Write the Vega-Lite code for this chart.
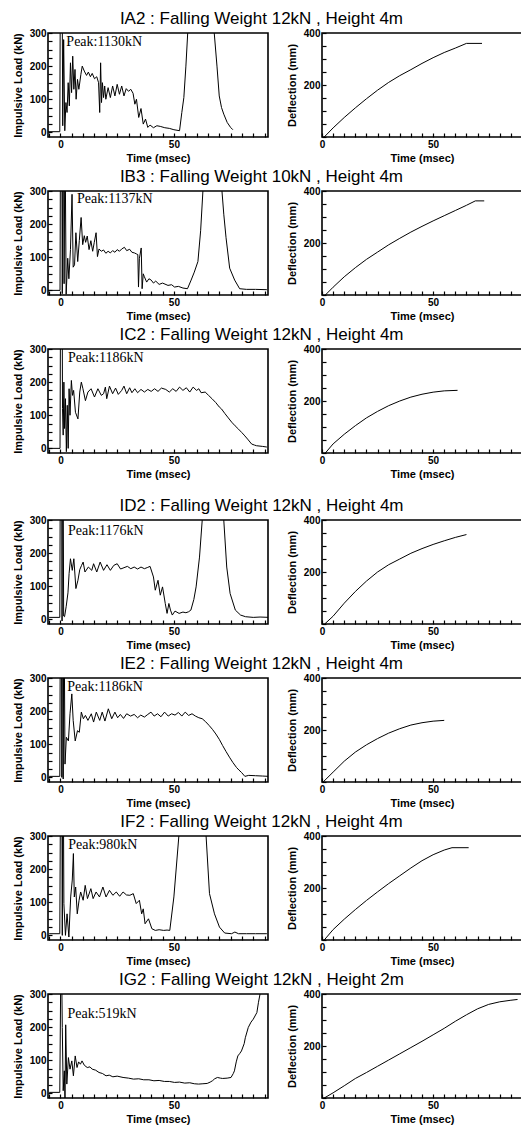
{
  "$schema": "https://vega.github.io/schema/vega-lite/v6.json",
  "background": "white",
  "padding": {"left": 11, "top": 10, "right": 0, "bottom": 0},
  "datasets": {
    "IA2_load": [{"t":-5.5,"v":2},{"t":-0.3,"v":2},{"t":0.3,"v":1130},{"t":1.0,"v":20},{"t":1.4,"v":280},{"t":1.9,"v":5},{"t":2.4,"v":90},{"t":2.9,"v":60},{"t":3.4,"v":150},{"t":3.9,"v":80},{"t":4.4,"v":210},{"t":4.9,"v":120},{"t":5.4,"v":230},{"t":5.9,"v":130},{"t":6.4,"v":190},{"t":6.9,"v":100},{"t":7.5,"v":160},{"t":8.1,"v":130},{"t":9,"v":175},{"t":9.6,"v":200},{"t":10.5,"v":185},{"t":11.5,"v":172},{"t":12.3,"v":182},{"t":13.2,"v":168},{"t":14,"v":178},{"t":15,"v":162},{"t":16,"v":168},{"t":16.8,"v":150},{"t":17.3,"v":60},{"t":17.7,"v":210},{"t":18.1,"v":90},{"t":18.5,"v":150},{"t":19,"v":105},{"t":19.5,"v":140},{"t":20,"v":100},{"t":21,"v":135},{"t":22,"v":105},{"t":23,"v":140},{"t":24,"v":110},{"t":25,"v":145},{"t":26,"v":115},{"t":27,"v":140},{"t":28,"v":110},{"t":29,"v":132},{"t":30,"v":124},{"t":31,"v":130},{"t":32,"v":118},{"t":32.8,"v":85},{"t":33.5,"v":100},{"t":34.5,"v":45},{"t":35.5,"v":72},{"t":36.5,"v":25},{"t":37.5,"v":40},{"t":38.5,"v":15},{"t":39.5,"v":22},{"t":41,"v":14},{"t":42.5,"v":20},{"t":44,"v":18},{"t":46,"v":14},{"t":48,"v":12},{"t":50,"v":8},{"t":52.5,"v":5},{"t":53.5,"v":60},{"t":54.4,"v":105},{"t":55.3,"v":200},{"t":56.1,"v":300},{"t":58,"v":550},{"t":62,"v":700},{"t":66,"v":550},{"t":67.8,"v":300},{"t":69,"v":200},{"t":70,"v":110},{"t":71,"v":75},{"t":72,"v":55},{"t":73.5,"v":30},{"t":75,"v":15},{"t":76,"v":8}],
    "IB3_load": [{"t":-5.5,"v":0},{"t":-0.2,"v":0},{"t":0.3,"v":1137},{"t":0.8,"v":-10},{"t":1.2,"v":700},{"t":1.6,"v":20},{"t":2.0,"v":500},{"t":2.5,"v":-12},{"t":3.2,"v":97},{"t":3.7,"v":35},{"t":4.4,"v":123},{"t":5.1,"v":290},{"t":5.6,"v":70},{"t":6.2,"v":77},{"t":6.8,"v":174},{"t":7.6,"v":87},{"t":8.3,"v":150},{"t":9.1,"v":220},{"t":9.8,"v":138},{"t":10.5,"v":165},{"t":11.1,"v":145},{"t":11.8,"v":164},{"t":12.6,"v":123},{"t":13.4,"v":150},{"t":14.2,"v":118},{"t":14.9,"v":145},{"t":15.7,"v":174},{"t":16.3,"v":102},{"t":17,"v":125},{"t":18,"v":118},{"t":19,"v":122},{"t":20,"v":112},{"t":21,"v":118},{"t":22,"v":113},{"t":23,"v":120},{"t":24,"v":115},{"t":25,"v":123},{"t":26,"v":118},{"t":27,"v":125},{"t":28.2,"v":130},{"t":29.2,"v":120},{"t":30.5,"v":124},{"t":31.5,"v":115},{"t":32.6,"v":113},{"t":33.5,"v":110},{"t":34.1,"v":108},{"t":34.4,"v":10},{"t":34.8,"v":97},{"t":35.6,"v":128},{"t":36,"v":5},{"t":36.5,"v":50},{"t":37,"v":41},{"t":38,"v":25},{"t":39,"v":35},{"t":40,"v":31},{"t":41,"v":22},{"t":42,"v":28},{"t":43.5,"v":18},{"t":45,"v":22},{"t":47.4,"v":15},{"t":49,"v":17},{"t":50.3,"v":10},{"t":52,"v":12},{"t":54,"v":7},{"t":56,"v":5},{"t":57.6,"v":31},{"t":59,"v":55},{"t":60.6,"v":87},{"t":61.8,"v":180},{"t":62.8,"v":300},{"t":65,"v":600},{"t":67,"v":700},{"t":69,"v":600},{"t":71.2,"v":300},{"t":72,"v":230},{"t":73,"v":159},{"t":74.6,"v":67},{"t":76.8,"v":31},{"t":79,"v":5},{"t":82,"v":3},{"t":86,"v":3},{"t":91,"v":2}],
    "IC2_load": [{"t":-5.5,"v":0},{"t":-0.2,"v":0},{"t":0.4,"v":1186},{"t":0.9,"v":120},{"t":1.2,"v":40},{"t":1.5,"v":200},{"t":1.8,"v":60},{"t":2.2,"v":150},{"t":2.6,"v":-10},{"t":3.0,"v":130},{"t":3.4,"v":0},{"t":3.8,"v":180},{"t":4.2,"v":100},{"t":4.8,"v":205},{"t":5.3,"v":160},{"t":5.8,"v":175},{"t":6.6,"v":109},{"t":7.7,"v":89},{"t":8.5,"v":170},{"t":9.2,"v":200},{"t":9.9,"v":180},{"t":11,"v":144},{"t":12.1,"v":170},{"t":13.5,"v":180},{"t":15,"v":155},{"t":16.5,"v":180},{"t":18,"v":160},{"t":19,"v":165},{"t":19.8,"v":185},{"t":20.4,"v":150},{"t":21.6,"v":188},{"t":23,"v":165},{"t":24.3,"v":182},{"t":25.5,"v":163},{"t":27,"v":175},{"t":28,"v":188},{"t":29.2,"v":165},{"t":30.5,"v":183},{"t":31.5,"v":168},{"t":32.8,"v":180},{"t":34,"v":168},{"t":35.5,"v":178},{"t":37,"v":170},{"t":38.5,"v":178},{"t":40,"v":172},{"t":41.5,"v":180},{"t":43,"v":172},{"t":44.5,"v":182},{"t":46.4,"v":178},{"t":48,"v":170},{"t":49.5,"v":180},{"t":51,"v":172},{"t":52.5,"v":185},{"t":54,"v":175},{"t":55.5,"v":183},{"t":57,"v":170},{"t":58.5,"v":185},{"t":60,"v":175},{"t":61,"v":180},{"t":62,"v":168},{"t":63.8,"v":170},{"t":65.3,"v":160},{"t":66.8,"v":150},{"t":68.5,"v":138},{"t":70,"v":125},{"t":71,"v":119},{"t":72.5,"v":105},{"t":74,"v":92},{"t":75.5,"v":79},{"t":77,"v":68},{"t":78.5,"v":58},{"t":79.9,"v":48},{"t":81,"v":40},{"t":82.5,"v":28},{"t":84.3,"v":13},{"t":85.5,"v":10},{"t":86.4,"v":8},{"t":89,"v":6},{"t":91,"v":4}],
    "ID2_load": [{"t":-5,"v":6},{"t":-0.3,"v":6},{"t":0.3,"v":1176},{"t":0.7,"v":-5},{"t":1.0,"v":800},{"t":1.4,"v":10},{"t":1.8,"v":8},{"t":2.5,"v":38},{"t":3.3,"v":80},{"t":3.8,"v":138},{"t":4.4,"v":183},{"t":5.2,"v":148},{"t":5.9,"v":183},{"t":6.8,"v":93},{"t":7.7,"v":118},{"t":8.5,"v":150},{"t":9.3,"v":163},{"t":10,"v":173},{"t":10.8,"v":143},{"t":12.3,"v":158},{"t":13.8,"v":148},{"t":14.6,"v":168},{"t":16,"v":143},{"t":17.5,"v":173},{"t":19,"v":148},{"t":20.5,"v":165},{"t":22,"v":148},{"t":23.5,"v":163},{"t":25,"v":168},{"t":26.5,"v":152},{"t":28,"v":156},{"t":29.5,"v":160},{"t":31,"v":153},{"t":32.5,"v":158},{"t":34,"v":152},{"t":35.5,"v":158},{"t":37,"v":153},{"t":38.5,"v":157},{"t":39.5,"v":160},{"t":41,"v":128},{"t":41.8,"v":88},{"t":43,"v":118},{"t":44,"v":73},{"t":45,"v":98},{"t":46.2,"v":48},{"t":47,"v":18},{"t":47.8,"v":48},{"t":48.5,"v":28},{"t":49.3,"v":13},{"t":50.5,"v":25},{"t":52.3,"v":18},{"t":54,"v":22},{"t":55.3,"v":20},{"t":56.5,"v":23},{"t":57.5,"v":28},{"t":58.8,"v":60},{"t":59.8,"v":98},{"t":61.3,"v":188},{"t":62.5,"v":300},{"t":65,"v":600},{"t":67.5,"v":700},{"t":70,"v":600},{"t":72,"v":300},{"t":73.3,"v":158},{"t":74.8,"v":78},{"t":77.1,"v":28},{"t":79.4,"v":13},{"t":81.6,"v":8},{"t":85,"v":6},{"t":88,"v":7},{"t":92,"v":6}],
    "IE2_load": [{"t":-5,"v":3},{"t":-0.3,"v":3},{"t":0.3,"v":1186},{"t":0.6,"v":0},{"t":0.9,"v":900},{"t":1.2,"v":-5},{"t":1.5,"v":600},{"t":2,"v":40},{"t":2.6,"v":121},{"t":3.5,"v":110},{"t":4.2,"v":192},{"t":5,"v":252},{"t":5.6,"v":172},{"t":6.5,"v":110},{"t":7.5,"v":141},{"t":8.3,"v":136},{"t":9.2,"v":197},{"t":10.1,"v":177},{"t":11,"v":187},{"t":12.1,"v":172},{"t":13.6,"v":192},{"t":14.6,"v":167},{"t":15.8,"v":197},{"t":17.3,"v":172},{"t":18.4,"v":197},{"t":19.6,"v":170},{"t":21.1,"v":207},{"t":22.6,"v":177},{"t":24,"v":197},{"t":25.2,"v":180},{"t":26.4,"v":190},{"t":27.8,"v":178},{"t":29.2,"v":192},{"t":30.9,"v":185},{"t":32.5,"v":190},{"t":34,"v":180},{"t":35.4,"v":188},{"t":37,"v":182},{"t":38.5,"v":190},{"t":39.9,"v":197},{"t":41.3,"v":185},{"t":42.8,"v":192},{"t":44.3,"v":183},{"t":45.9,"v":197},{"t":47.5,"v":185},{"t":49,"v":192},{"t":50.5,"v":188},{"t":52,"v":196},{"t":53.5,"v":185},{"t":55,"v":197},{"t":56.5,"v":187},{"t":58,"v":192},{"t":59.5,"v":185},{"t":61,"v":180},{"t":62.5,"v":177},{"t":64,"v":168},{"t":65.5,"v":157},{"t":67,"v":145},{"t":68.5,"v":131},{"t":70,"v":115},{"t":71.5,"v":96},{"t":73,"v":78},{"t":74.5,"v":61},{"t":76,"v":45},{"t":77.6,"v":30},{"t":78.7,"v":22},{"t":79.8,"v":15},{"t":81.3,"v":3},{"t":83,"v":6},{"t":86,"v":5},{"t":89,"v":4},{"t":92,"v":3}],
    "IF2_load": [{"t":-5,"v":5},{"t":-0.3,"v":5},{"t":0.4,"v":980},{"t":0.8,"v":0},{"t":1.1,"v":700},{"t":1.5,"v":96},{"t":2.2,"v":0},{"t":2.9,"v":65},{"t":3.7,"v":-5},{"t":4.5,"v":116},{"t":5.2,"v":167},{"t":5.7,"v":247},{"t":6.1,"v":116},{"t":6.7,"v":146},{"t":7.4,"v":65},{"t":8.2,"v":106},{"t":8.9,"v":131},{"t":10,"v":106},{"t":10.9,"v":151},{"t":11.9,"v":111},{"t":13.4,"v":141},{"t":14.4,"v":111},{"t":15.7,"v":131},{"t":17.2,"v":116},{"t":18.7,"v":146},{"t":20.1,"v":116},{"t":21.6,"v":136},{"t":23.1,"v":121},{"t":24.6,"v":131},{"t":26.1,"v":118},{"t":27.6,"v":131},{"t":29.1,"v":122},{"t":30.6,"v":121},{"t":32.1,"v":126},{"t":33.4,"v":96},{"t":34.8,"v":106},{"t":35.8,"v":65},{"t":36.5,"v":80},{"t":37.3,"v":35},{"t":38.8,"v":50},{"t":40.3,"v":20},{"t":41.8,"v":15},{"t":43.5,"v":17},{"t":45.5,"v":15},{"t":47,"v":16},{"t":48.2,"v":15},{"t":50,"v":116},{"t":52.2,"v":300},{"t":55,"v":600},{"t":58,"v":700},{"t":61,"v":600},{"t":64.2,"v":300},{"t":65.7,"v":126},{"t":67.9,"v":65},{"t":70.1,"v":25},{"t":72.4,"v":7},{"t":75.4,"v":5},{"t":76.9,"v":10},{"t":78.5,"v":5},{"t":82,"v":5},{"t":86,"v":5},{"t":91,"v":5}],
    "IG2_load": [{"t":-5,"v":3},{"t":-0.3,"v":3},{"t":0.3,"v":519},{"t":0.8,"v":199},{"t":1.2,"v":8},{"t":1.7,"v":68},{"t":2,"v":-25},{"t":2.3,"v":207},{"t":2.8,"v":28},{"t":3.5,"v":108},{"t":4.2,"v":73},{"t":5,"v":98},{"t":5.7,"v":53},{"t":6.5,"v":113},{"t":7.3,"v":78},{"t":8,"v":95},{"t":8.8,"v":88},{"t":9.5,"v":98},{"t":10.5,"v":85},{"t":11.8,"v":78},{"t":13,"v":80},{"t":14,"v":73},{"t":15.5,"v":70},{"t":17,"v":63},{"t":18.5,"v":60},{"t":20.1,"v":53},{"t":21.5,"v":55},{"t":23.1,"v":50},{"t":25,"v":52},{"t":27.6,"v":48},{"t":30,"v":46},{"t":32.2,"v":43},{"t":34.5,"v":44},{"t":36.7,"v":41},{"t":39,"v":41},{"t":41.2,"v":38},{"t":43.5,"v":39},{"t":45.8,"v":36},{"t":48,"v":36},{"t":50.3,"v":33},{"t":52.5,"v":34},{"t":54.8,"v":31},{"t":57,"v":32},{"t":59,"v":29},{"t":60.9,"v":28},{"t":62.8,"v":29},{"t":64.7,"v":30},{"t":66,"v":34},{"t":67,"v":38},{"t":68,"v":44},{"t":69.2,"v":48},{"t":70.5,"v":46},{"t":71.5,"v":45},{"t":73.5,"v":46},{"t":75.2,"v":48},{"t":76.2,"v":60},{"t":76.7,"v":68},{"t":77.5,"v":95},{"t":78.2,"v":113},{"t":79,"v":120},{"t":79.8,"v":128},{"t":81,"v":150},{"t":81.5,"v":168},{"t":82.8,"v":199},{"t":84,"v":215},{"t":85,"v":224},{"t":86.6,"v":244},{"t":87.3,"v":275},{"t":88,"v":300},{"t":89.6,"v":330},{"t":91,"v":360}],
    "IA2_defl": [{"t":1,"v":0},{"t":5,"v":35},{"t":10,"v":75},{"t":15,"v":112},{"t":20,"v":147},{"t":25,"v":180},{"t":30,"v":210},{"t":35,"v":236},{"t":40,"v":259},{"t":45,"v":283},{"t":50,"v":305},{"t":55,"v":325},{"t":60,"v":342},{"t":65,"v":360},{"t":72,"v":360}],
    "IB3_defl": [{"t":1.5,"v":0},{"t":5,"v":30},{"t":10,"v":70},{"t":15,"v":105},{"t":20,"v":137},{"t":25,"v":165},{"t":30,"v":193},{"t":35,"v":218},{"t":40,"v":242},{"t":45,"v":264},{"t":50,"v":285},{"t":55,"v":305},{"t":60,"v":325},{"t":65,"v":345},{"t":69,"v":362},{"t":73,"v":362}],
    "IC2_defl": [{"t":1.5,"v":0},{"t":5,"v":35},{"t":10,"v":72},{"t":15,"v":105},{"t":20,"v":135},{"t":25,"v":160},{"t":30,"v":182},{"t":35,"v":200},{"t":40,"v":215},{"t":45,"v":226},{"t":50,"v":234},{"t":55,"v":239},{"t":61,"v":241}],
    "ID2_defl": [{"t":1.2,"v":0},{"t":5,"v":30},{"t":10,"v":80},{"t":15,"v":125},{"t":20,"v":165},{"t":25,"v":200},{"t":30,"v":228},{"t":35,"v":250},{"t":40,"v":272},{"t":45,"v":290},{"t":50,"v":306},{"t":55,"v":320},{"t":60,"v":333},{"t":65,"v":344}],
    "IE2_defl": [{"t":0.5,"v":0},{"t":5,"v":38},{"t":10,"v":80},{"t":15,"v":115},{"t":20,"v":143},{"t":25,"v":167},{"t":30,"v":188},{"t":35,"v":205},{"t":40,"v":219},{"t":45,"v":228},{"t":50,"v":234},{"t":55,"v":237}],
    "IF2_defl": [{"t":1,"v":0},{"t":5,"v":40},{"t":10,"v":80},{"t":15,"v":117},{"t":20,"v":152},{"t":25,"v":185},{"t":30,"v":217},{"t":35,"v":247},{"t":40,"v":277},{"t":45,"v":305},{"t":50,"v":328},{"t":55,"v":346},{"t":58.5,"v":355},{"t":66,"v":355}],
    "IG2_defl": [{"t":1,"v":0},{"t":5,"v":20},{"t":10,"v":47},{"t":15,"v":75},{"t":20,"v":98},{"t":25,"v":122},{"t":30,"v":146},{"t":35,"v":170},{"t":40,"v":194},{"t":45,"v":218},{"t":50,"v":243},{"t":55,"v":268},{"t":60,"v":295},{"t":65,"v":320},{"t":70,"v":343},{"t":75,"v":360},{"t":80,"v":370},{"t":85,"v":376},{"t":88,"v":379}]
  },
  "spacing": 17,
  "vconcat": [
    {
      "spacing": 4,
      "vconcat": [
        {
          "title": "IA2 :  Falling Weight 12kN , Height 4m",
          "spacing": 16,
          "hconcat": [
            {"width": 220, "height": 104, "layer": [
              {"data": {"name": "IA2_load"}, "mark": {"type": "line", "clip": true, "color": "black", "strokeWidth": 1}, "encoding": {
                "x": {"field": "t", "type": "quantitative", "title": "Time (msec)", "scale": {"domain": [-5.5, 91.5], "nice": false, "zero": false}, "axis": {"labelOverlap": false, "values": [-5,0,5,10,15,20,25,30,35,40,45,50,55,60,65,70,75,80,85,90], "labelExpr": "datum.value==0||datum.value==50?datum.label:''"}},
                "y": {"field": "v", "type": "quantitative", "title": "Impulsive Load (kN)", "scale": {"domain": [-14, 300], "nice": false, "zero": false}, "axis": {"labelOverlap": false, "values": [0,25,50,75,100,125,150,175,200,225,250,275,300], "labelExpr": "datum.value%100==0?datum.label:''"}}}},
              {"data": {"values": [{"label": "Peak:1130kN"}]}, "mark": {"type": "text", "align": "left", "baseline": "middle", "font": "Liberation Serif", "fontSize": 14, "color": "black"}, "encoding": {
                "x": {"datum": 2.6, "type": "quantitative", "title": "Time (msec)", "axis": {"labelOverlap": false, "values": [-5,0,5,10,15,20,25,30,35,40,45,50,55,60,65,70,75,80,85,90], "labelExpr": "datum.value==0||datum.value==50?datum.label:''"}},
                "y": {"datum": 272, "type": "quantitative", "title": "Impulsive Load (kN)", "axis": {"labelOverlap": false, "values": [0,25,50,75,100,125,150,175,200,225,250,275,300], "labelExpr": "datum.value%100==0?datum.label:''"}},
                "text": {"field": "label"}}}
            ]},
            {"width": 200, "height": 104, "data": {"name": "IA2_defl"}, "mark": {"type": "line", "clip": true, "color": "black", "strokeWidth": 1}, "encoding": {
              "x": {"field": "t", "type": "quantitative", "title": "Time (msec)", "scale": {"domain": [0, 90], "nice": false}, "axis": {"labelOverlap": false, "values": [0,5,10,15,20,25,30,35,40,45,50,55,60,65,70,75,80,85,90], "labelExpr": "datum.value==0||datum.value==50?datum.label:''"}},
              "y": {"field": "v", "type": "quantitative", "title": "Deflection (mm)", "scale": {"domain": [0, 400], "nice": false}, "axis": {"labelOverlap": false, "values": [0,50,100,150,200,250,300,350,400], "labelExpr": "datum.value==200||datum.value==400?datum.label:''"}}}}
          ]
        },
        {
          "title": "IB3 :  Falling Weight 10kN , Height 4m",
          "spacing": 16,
          "hconcat": [
            {"width": 220, "height": 104, "layer": [
              {"data": {"name": "IB3_load"}, "mark": {"type": "line", "clip": true, "color": "black", "strokeWidth": 1}, "encoding": {
                "x": {"field": "t", "type": "quantitative", "title": "Time (msec)", "scale": {"domain": [-5.5, 91.5], "nice": false, "zero": false}, "axis": {"labelOverlap": false, "values": [-5,0,5,10,15,20,25,30,35,40,45,50,55,60,65,70,75,80,85,90], "labelExpr": "datum.value==0||datum.value==50?datum.label:''"}},
                "y": {"field": "v", "type": "quantitative", "title": "Impulsive Load (kN)", "scale": {"domain": [-14, 300], "nice": false, "zero": false}, "axis": {"labelOverlap": false, "values": [0,25,50,75,100,125,150,175,200,225,250,275,300], "labelExpr": "datum.value%100==0?datum.label:''"}}}},
              {"data": {"values": [{"label": "Peak:1137kN"}]}, "mark": {"type": "text", "align": "left", "baseline": "middle", "font": "Liberation Serif", "fontSize": 14, "color": "black"}, "encoding": {
                "x": {"datum": 7.3, "type": "quantitative", "title": "Time (msec)", "axis": {"labelOverlap": false, "values": [-5,0,5,10,15,20,25,30,35,40,45,50,55,60,65,70,75,80,85,90], "labelExpr": "datum.value==0||datum.value==50?datum.label:''"}},
                "y": {"datum": 276, "type": "quantitative", "title": "Impulsive Load (kN)", "axis": {"labelOverlap": false, "values": [0,25,50,75,100,125,150,175,200,225,250,275,300], "labelExpr": "datum.value%100==0?datum.label:''"}},
                "text": {"field": "label"}}}
            ]},
            {"width": 200, "height": 104, "data": {"name": "IB3_defl"}, "mark": {"type": "line", "clip": true, "color": "black", "strokeWidth": 1}, "encoding": {
              "x": {"field": "t", "type": "quantitative", "title": "Time (msec)", "scale": {"domain": [0, 90], "nice": false}, "axis": {"labelOverlap": false, "values": [0,5,10,15,20,25,30,35,40,45,50,55,60,65,70,75,80,85,90], "labelExpr": "datum.value==0||datum.value==50?datum.label:''"}},
              "y": {"field": "v", "type": "quantitative", "title": "Deflection (mm)", "scale": {"domain": [0, 400], "nice": false}, "axis": {"labelOverlap": false, "values": [0,50,100,150,200,250,300,350,400], "labelExpr": "datum.value==200||datum.value==400?datum.label:''"}}}}
          ]
        },
        {
          "title": "IC2 :  Falling Weight 12kN , Height 4m",
          "spacing": 16,
          "hconcat": [
            {"width": 220, "height": 104, "layer": [
              {"data": {"name": "IC2_load"}, "mark": {"type": "line", "clip": true, "color": "black", "strokeWidth": 1}, "encoding": {
                "x": {"field": "t", "type": "quantitative", "title": "Time (msec)", "scale": {"domain": [-5.5, 91.5], "nice": false, "zero": false}, "axis": {"labelOverlap": false, "values": [-5,0,5,10,15,20,25,30,35,40,45,50,55,60,65,70,75,80,85,90], "labelExpr": "datum.value==0||datum.value==50?datum.label:''"}},
                "y": {"field": "v", "type": "quantitative", "title": "Impulsive Load (kN)", "scale": {"domain": [-14, 300], "nice": false, "zero": false}, "axis": {"labelOverlap": false, "values": [0,25,50,75,100,125,150,175,200,225,250,275,300], "labelExpr": "datum.value%100==0?datum.label:''"}}}},
              {"data": {"values": [{"label": "Peak:1186kN"}]}, "mark": {"type": "text", "align": "left", "baseline": "middle", "font": "Liberation Serif", "fontSize": 14, "color": "black"}, "encoding": {
                "x": {"datum": 3.3, "type": "quantitative", "title": "Time (msec)", "axis": {"labelOverlap": false, "values": [-5,0,5,10,15,20,25,30,35,40,45,50,55,60,65,70,75,80,85,90], "labelExpr": "datum.value==0||datum.value==50?datum.label:''"}},
                "y": {"datum": 272, "type": "quantitative", "title": "Impulsive Load (kN)", "axis": {"labelOverlap": false, "values": [0,25,50,75,100,125,150,175,200,225,250,275,300], "labelExpr": "datum.value%100==0?datum.label:''"}},
                "text": {"field": "label"}}}
            ]},
            {"width": 200, "height": 104, "data": {"name": "IC2_defl"}, "mark": {"type": "line", "clip": true, "color": "black", "strokeWidth": 1}, "encoding": {
              "x": {"field": "t", "type": "quantitative", "title": "Time (msec)", "scale": {"domain": [0, 90], "nice": false}, "axis": {"labelOverlap": false, "values": [0,5,10,15,20,25,30,35,40,45,50,55,60,65,70,75,80,85,90], "labelExpr": "datum.value==0||datum.value==50?datum.label:''"}},
              "y": {"field": "v", "type": "quantitative", "title": "Deflection (mm)", "scale": {"domain": [0, 400], "nice": false}, "axis": {"labelOverlap": false, "values": [0,50,100,150,200,250,300,350,400], "labelExpr": "datum.value==200||datum.value==400?datum.label:''"}}}}
          ]
        }
      ]
    },
    {
      "spacing": 4,
      "vconcat": [
        {
          "title": "ID2 :  Falling Weight 12kN , Height 4m",
          "spacing": 16,
          "hconcat": [
            {"width": 220, "height": 104, "layer": [
              {"data": {"name": "ID2_load"}, "mark": {"type": "line", "clip": true, "color": "black", "strokeWidth": 1}, "encoding": {
                "x": {"field": "t", "type": "quantitative", "title": "Time (msec)", "scale": {"domain": [-5.5, 91.5], "nice": false, "zero": false}, "axis": {"labelOverlap": false, "values": [-5,0,5,10,15,20,25,30,35,40,45,50,55,60,65,70,75,80,85,90], "labelExpr": "datum.value==0||datum.value==50?datum.label:''"}},
                "y": {"field": "v", "type": "quantitative", "title": "Impulsive Load (kN)", "scale": {"domain": [-14, 300], "nice": false, "zero": false}, "axis": {"labelOverlap": false, "values": [0,25,50,75,100,125,150,175,200,225,250,275,300], "labelExpr": "datum.value%100==0?datum.label:''"}}}},
              {"data": {"values": [{"label": "Peak:1176kN"}]}, "mark": {"type": "text", "align": "left", "baseline": "middle", "font": "Liberation Serif", "fontSize": 14, "color": "black"}, "encoding": {
                "x": {"datum": 3.3, "type": "quantitative", "title": "Time (msec)", "axis": {"labelOverlap": false, "values": [-5,0,5,10,15,20,25,30,35,40,45,50,55,60,65,70,75,80,85,90], "labelExpr": "datum.value==0||datum.value==50?datum.label:''"}},
                "y": {"datum": 268, "type": "quantitative", "title": "Impulsive Load (kN)", "axis": {"labelOverlap": false, "values": [0,25,50,75,100,125,150,175,200,225,250,275,300], "labelExpr": "datum.value%100==0?datum.label:''"}},
                "text": {"field": "label"}}}
            ]},
            {"width": 200, "height": 104, "data": {"name": "ID2_defl"}, "mark": {"type": "line", "clip": true, "color": "black", "strokeWidth": 1}, "encoding": {
              "x": {"field": "t", "type": "quantitative", "title": "Time (msec)", "scale": {"domain": [0, 90], "nice": false}, "axis": {"labelOverlap": false, "values": [0,5,10,15,20,25,30,35,40,45,50,55,60,65,70,75,80,85,90], "labelExpr": "datum.value==0||datum.value==50?datum.label:''"}},
              "y": {"field": "v", "type": "quantitative", "title": "Deflection (mm)", "scale": {"domain": [0, 400], "nice": false}, "axis": {"labelOverlap": false, "values": [0,50,100,150,200,250,300,350,400], "labelExpr": "datum.value==200||datum.value==400?datum.label:''"}}}}
          ]
        },
        {
          "title": "IE2 :  Falling Weight 12kN , Height 4m",
          "spacing": 16,
          "hconcat": [
            {"width": 220, "height": 104, "layer": [
              {"data": {"name": "IE2_load"}, "mark": {"type": "line", "clip": true, "color": "black", "strokeWidth": 1}, "encoding": {
                "x": {"field": "t", "type": "quantitative", "title": "Time (msec)", "scale": {"domain": [-5.5, 91.5], "nice": false, "zero": false}, "axis": {"labelOverlap": false, "values": [-5,0,5,10,15,20,25,30,35,40,45,50,55,60,65,70,75,80,85,90], "labelExpr": "datum.value==0||datum.value==50?datum.label:''"}},
                "y": {"field": "v", "type": "quantitative", "title": "Impulsive Load (kN)", "scale": {"domain": [-14, 300], "nice": false, "zero": false}, "axis": {"labelOverlap": false, "values": [0,25,50,75,100,125,150,175,200,225,250,275,300], "labelExpr": "datum.value%100==0?datum.label:''"}}}},
              {"data": {"values": [{"label": "Peak:1186kN"}]}, "mark": {"type": "text", "align": "left", "baseline": "middle", "font": "Liberation Serif", "fontSize": 14, "color": "black"}, "encoding": {
                "x": {"datum": 3.0, "type": "quantitative", "title": "Time (msec)", "axis": {"labelOverlap": false, "values": [-5,0,5,10,15,20,25,30,35,40,45,50,55,60,65,70,75,80,85,90], "labelExpr": "datum.value==0||datum.value==50?datum.label:''"}},
                "y": {"datum": 272, "type": "quantitative", "title": "Impulsive Load (kN)", "axis": {"labelOverlap": false, "values": [0,25,50,75,100,125,150,175,200,225,250,275,300], "labelExpr": "datum.value%100==0?datum.label:''"}},
                "text": {"field": "label"}}}
            ]},
            {"width": 200, "height": 104, "data": {"name": "IE2_defl"}, "mark": {"type": "line", "clip": true, "color": "black", "strokeWidth": 1}, "encoding": {
              "x": {"field": "t", "type": "quantitative", "title": "Time (msec)", "scale": {"domain": [0, 90], "nice": false}, "axis": {"labelOverlap": false, "values": [0,5,10,15,20,25,30,35,40,45,50,55,60,65,70,75,80,85,90], "labelExpr": "datum.value==0||datum.value==50?datum.label:''"}},
              "y": {"field": "v", "type": "quantitative", "title": "Deflection (mm)", "scale": {"domain": [0, 400], "nice": false}, "axis": {"labelOverlap": false, "values": [0,50,100,150,200,250,300,350,400], "labelExpr": "datum.value==200||datum.value==400?datum.label:''"}}}}
          ]
        },
        {
          "title": "IF2 :  Falling Weight 12kN , Height 4m",
          "spacing": 16,
          "hconcat": [
            {"width": 220, "height": 104, "layer": [
              {"data": {"name": "IF2_load"}, "mark": {"type": "line", "clip": true, "color": "black", "strokeWidth": 1}, "encoding": {
                "x": {"field": "t", "type": "quantitative", "title": "Time (msec)", "scale": {"domain": [-5.5, 91.5], "nice": false, "zero": false}, "axis": {"labelOverlap": false, "values": [-5,0,5,10,15,20,25,30,35,40,45,50,55,60,65,70,75,80,85,90], "labelExpr": "datum.value==0||datum.value==50?datum.label:''"}},
                "y": {"field": "v", "type": "quantitative", "title": "Impulsive Load (kN)", "scale": {"domain": [-14, 300], "nice": false, "zero": false}, "axis": {"labelOverlap": false, "values": [0,25,50,75,100,125,150,175,200,225,250,275,300], "labelExpr": "datum.value%100==0?datum.label:''"}}}},
              {"data": {"values": [{"label": "Peak:980kN"}]}, "mark": {"type": "text", "align": "left", "baseline": "middle", "font": "Liberation Serif", "fontSize": 14, "color": "black"}, "encoding": {
                "x": {"datum": 3.4, "type": "quantitative", "title": "Time (msec)", "axis": {"labelOverlap": false, "values": [-5,0,5,10,15,20,25,30,35,40,45,50,55,60,65,70,75,80,85,90], "labelExpr": "datum.value==0||datum.value==50?datum.label:''"}},
                "y": {"datum": 272, "type": "quantitative", "title": "Impulsive Load (kN)", "axis": {"labelOverlap": false, "values": [0,25,50,75,100,125,150,175,200,225,250,275,300], "labelExpr": "datum.value%100==0?datum.label:''"}},
                "text": {"field": "label"}}}
            ]},
            {"width": 200, "height": 104, "data": {"name": "IF2_defl"}, "mark": {"type": "line", "clip": true, "color": "black", "strokeWidth": 1}, "encoding": {
              "x": {"field": "t", "type": "quantitative", "title": "Time (msec)", "scale": {"domain": [0, 90], "nice": false}, "axis": {"labelOverlap": false, "values": [0,5,10,15,20,25,30,35,40,45,50,55,60,65,70,75,80,85,90], "labelExpr": "datum.value==0||datum.value==50?datum.label:''"}},
              "y": {"field": "v", "type": "quantitative", "title": "Deflection (mm)", "scale": {"domain": [0, 400], "nice": false}, "axis": {"labelOverlap": false, "values": [0,50,100,150,200,250,300,350,400], "labelExpr": "datum.value==200||datum.value==400?datum.label:''"}}}}
          ]
        },
        {
          "title": "IG2 :  Falling Weight 12kN , Height 2m",
          "spacing": 16,
          "hconcat": [
            {"width": 220, "height": 104, "layer": [
              {"data": {"name": "IG2_load"}, "mark": {"type": "line", "clip": true, "color": "black", "strokeWidth": 1}, "encoding": {
                "x": {"field": "t", "type": "quantitative", "title": "Time (msec)", "scale": {"domain": [-5.5, 91.5], "nice": false, "zero": false}, "axis": {"labelOverlap": false, "values": [-5,0,5,10,15,20,25,30,35,40,45,50,55,60,65,70,75,80,85,90], "labelExpr": "datum.value==0||datum.value==50?datum.label:''"}},
                "y": {"field": "v", "type": "quantitative", "title": "Impulsive Load (kN)", "scale": {"domain": [-14, 300], "nice": false, "zero": false}, "axis": {"labelOverlap": false, "values": [0,25,50,75,100,125,150,175,200,225,250,275,300], "labelExpr": "datum.value%100==0?datum.label:''"}}}},
              {"data": {"values": [{"label": "Peak:519kN"}]}, "mark": {"type": "text", "align": "left", "baseline": "middle", "font": "Liberation Serif", "fontSize": 14, "color": "black"}, "encoding": {
                "x": {"datum": 3.1, "type": "quantitative", "title": "Time (msec)", "axis": {"labelOverlap": false, "values": [-5,0,5,10,15,20,25,30,35,40,45,50,55,60,65,70,75,80,85,90], "labelExpr": "datum.value==0||datum.value==50?datum.label:''"}},
                "y": {"datum": 241, "type": "quantitative", "title": "Impulsive Load (kN)", "axis": {"labelOverlap": false, "values": [0,25,50,75,100,125,150,175,200,225,250,275,300], "labelExpr": "datum.value%100==0?datum.label:''"}},
                "text": {"field": "label"}}}
            ]},
            {"width": 200, "height": 104, "data": {"name": "IG2_defl"}, "mark": {"type": "line", "clip": true, "color": "black", "strokeWidth": 1}, "encoding": {
              "x": {"field": "t", "type": "quantitative", "title": "Time (msec)", "scale": {"domain": [0, 90], "nice": false}, "axis": {"labelOverlap": false, "values": [0,5,10,15,20,25,30,35,40,45,50,55,60,65,70,75,80,85,90], "labelExpr": "datum.value==0||datum.value==50?datum.label:''"}},
              "y": {"field": "v", "type": "quantitative", "title": "Deflection (mm)", "scale": {"domain": [0, 400], "nice": false}, "axis": {"labelOverlap": false, "values": [0,50,100,150,200,250,300,350,400], "labelExpr": "datum.value==200||datum.value==400?datum.label:''"}}}}
          ]
        }
      ]
    }
  ],
  "config": {
    "font": "Liberation Sans",
    "view": {"stroke": "black", "strokeWidth": 1.6},
    "axis": {
      "grid": false,
      "domain": false,
      "offset": -4,
      "tickColor": "black",
      "tickWidth": 1.2,
      "tickSize": 4,
      "labelPadding": 2,
      "labelFlush": false,
      "labelOverlap": false,
      "labelFont": "Liberation Sans",
      "labelFontWeight": "bold",
      "labelFontSize": 10,
      "labelColor": "black",
      "titleFont": "Liberation Sans",
      "titleFontWeight": "bold",
      "titleFontSize": 11,
      "titleColor": "black",
      "titlePadding": 3
    },
    "axisY": {"titlePadding": 6},
    "title": {"font": "Liberation Sans", "fontSize": 17, "fontWeight": "normal", "color": "black", "anchor": "middle", "offset": -1, "dx": -6}
  }
}
